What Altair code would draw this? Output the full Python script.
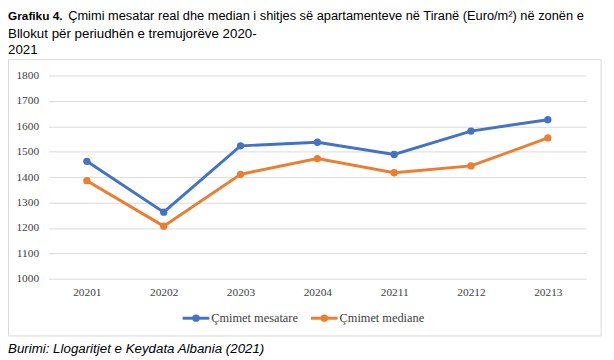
import altair as alt
import pandas as pd

quarters = ["20201", "20202", "20203", "20204", "20211", "20212", "20213"]
mesatare = [1462, 1262, 1523, 1537, 1489, 1581, 1626]
mediane = [1386, 1207, 1411, 1473, 1417, 1444, 1554]
series_names = ["Çmimet mesatare", "Çmimet mediane"]
colors = ["#4472C4", "#ED7D31"]
y_ticks = [1000, 1100, 1200, 1300, 1400, 1500, 1600, 1700, 1800]
title_bold = "Grafiku 4."
title_lines = [
    "Çmimi mesatar real dhe median i shitjes së apartamenteve në Tiranë (Euro/m²) në zonën e",
    "Bllokut për periudhën e tremujorëve 2020-",
    "2021",
]
source_text = "Burimi: Llogaritjet e Keydata Albania (2021)"

df = pd.DataFrame({
    "quarter": quarters * 2,
    "value": mesatare + mediane,
    "series": [series_names[0]] * len(quarters) + [series_names[1]] * len(quarters),
})

W, H = 545, 206
SERIF = "Liberation Serif"
SANS = "Liberation Sans"
TFS = 13.5

color = alt.Color("series:N", scale=alt.Scale(domain=series_names, range=colors), legend=None)
x = alt.X("quarter:N", sort=quarters,
          axis=alt.Axis(title=None, labelAngle=0, domain=False, ticks=False,
                        labelFont=SERIF, labelFontSize=11.5, labelColor="#404040", labelPadding=8))
y = alt.Y("value:Q", scale=alt.Scale(domain=[1000, 1800], nice=False),
          axis=alt.Axis(values=y_ticks, format="d", title=None, domain=False, ticks=False, grid=True,
                        gridColor="#d9d9d9", gridWidth=1, labelFont=SERIF, labelFontSize=11.5,
                        labelColor="#404040", labelPadding=10))

base = alt.Chart(df)
lines = base.mark_line(strokeWidth=3).encode(x=x, y=y, color=color)
points = base.mark_point(filled=True, size=55, opacity=1).encode(x=x, y=y, color=color)

one = alt.Data(values=[{"a": 1}])

box = alt.Chart(one).mark_rect(fill=None, stroke="#d9d9d9", strokeWidth=1).encode(
    x=alt.value(-40.5), x2=alt.value(560), y=alt.value(-16), y2=alt.value(264))

layers = [box, lines, points]

# legend
leg_x = [136, 266]
for i, name in enumerate(series_names):
    lx = leg_x[i]
    layers.append(alt.Chart(one).mark_rule(strokeWidth=3, color=colors[i]).encode(
        x=alt.value(lx), x2=alt.value(lx + 27), y=alt.value(246)))
    layers.append(alt.Chart(one).mark_point(filled=True, size=55, opacity=1, color=colors[i]).encode(
        x=alt.value(lx + 13.5), y=alt.value(246)))
    layers.append(alt.Chart(one).mark_text(align="left", baseline="middle", font=SERIF,
                                           fontSize=12.5, color="#404040", text=name).encode(
        x=alt.value(lx + 29), y=alt.value(246)))

# title
layers.append(alt.Chart(one).mark_text(align="left", baseline="alphabetic", font=SANS, fontSize=12,
                                       fontWeight="bold", color="#000000", text=title_bold).encode(
    x=alt.value(-41), y=alt.value(-56)))
title_y = [-56, -38, -22]
title_x = [20, -41, -41]
title_fs = [13, TFS, TFS]
for t, ty, tx, fs in zip(title_lines, title_y, title_x, title_fs):
    layers.append(alt.Chart(one).mark_text(align="left", baseline="alphabetic", font=SANS, fontSize=fs,
                                           color="#000000", text=t).encode(
        x=alt.value(tx), y=alt.value(ty)))

layers.append(alt.Chart(one).mark_text(align="left", baseline="alphabetic", font=SANS, fontSize=TFS,
                                       fontStyle="italic", color="#000000", text=source_text).encode(
    x=alt.value(-41), y=alt.value(281)))

chart = alt.layer(*layers).properties(
    width=W, height=H,
    autosize=alt.AutoSizeParams(type="none"),
    padding={"left": 41, "top": 66, "right": 20, "bottom": 80},
).configure_view(stroke=None)

chart.save("out.html", embed_options={"renderer": "svg", "actions": False})
